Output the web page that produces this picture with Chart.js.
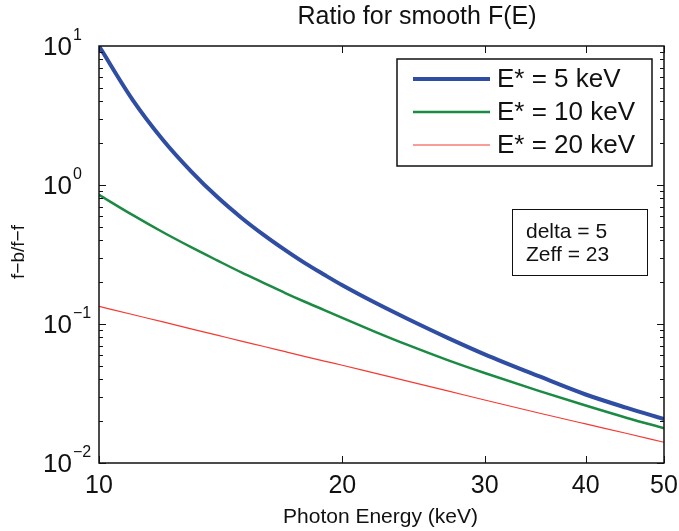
<!DOCTYPE html>
<html>
<head>
<meta charset="utf-8">
<script src="https://cdn.jsdelivr.net/npm/chart.js@4"></script>
<style>
  html, body { margin: 0; padding: 0; background: #fff; }
  canvas { display: block; }
</style>
</head>
<body>
<canvas id="chart" width="679" height="531"></canvas>
<script>
// data
const energies = [10, 11, 12, 13, 14, 15, 16, 17, 18, 19, 20, 22, 24, 27, 30, 35, 40, 45, 50];
const ratio5keV = [10, 4.12, 2.11, 1.255, 0.822, 0.582, 0.436, 0.340, 0.273, 0.226, 0.190, 0.1415, 0.110, 0.0795, 0.0605, 0.0421, 0.0311, 0.0249, 0.0207];
const ratio10keV = [0.85, 0.609, 0.457, 0.357, 0.287, 0.235, 0.197, 0.167, 0.144, 0.126, 0.1105, 0.0875, 0.0713, 0.055, 0.0444, 0.033, 0.0259, 0.0211, 0.0178];
const ratio20keV = [0.134, 0.117, 0.1035, 0.0923, 0.0831, 0.0753, 0.0689, 0.0632, 0.0583, 0.0541, 0.0505, 0.0441, 0.039, 0.033, 0.0284, 0.0229, 0.0191, 0.0163, 0.0141];

const seriesLabels = ['E* = 5 keV', 'E* = 10 keV', 'E* = 20 keV'];
const xTicks = [10, 20, 30, 40, 50];
const yTicks = [0.01, 0.1, 1, 10];
const yTickExps = ['\u22122', '\u22121', '0', '1'];
const noteLines = ['delta = 5', 'Zeff = 23'];

const FONT = '"Liberation Sans", Arial, Helvetica, sans-serif';

const toPoints = (ys) => energies.map((x, i) => ({ x, y: ys[i] }));

// frame, inward ticks, labels, legend and note box (matlab look)
const matlabAxes = {
    id: 'matlabAxes',
    afterDraw(chart) {
        const { ctx, chartArea: a, scales } = chart;
        const xs = scales.x, ys = scales.y;
        ctx.save();
        ctx.strokeStyle = '#111';
        ctx.lineWidth = 1.5;
        ctx.strokeRect(a.left, a.top, a.right - a.left, a.bottom - a.top);

        // y ticks, major + minor on both sides
        ctx.lineWidth = 1;
        ctx.beginPath();
        for (let d = -2; d < 1; d++) {
            for (let m = 1; m <= 9; m++) {
                const py = Math.round(ys.getPixelForValue(m * Math.pow(10, d))) + 0.5;
                const len = m === 1 ? 7 : 4;
                ctx.moveTo(a.left, py); ctx.lineTo(a.left + len, py);
                ctx.moveTo(a.right, py); ctx.lineTo(a.right - len, py);
            }
        }
        xTicks.forEach(v => {
            const px = Math.round(xs.getPixelForValue(v)) + 0.5;
            ctx.moveTo(px, a.bottom); ctx.lineTo(px, a.bottom - 7);
            ctx.moveTo(px, a.top); ctx.lineTo(px, a.top + 7);
        });
        ctx.stroke();

        // tick labels
        ctx.fillStyle = '#111';
        ctx.textBaseline = 'middle';
        ctx.textAlign = 'center';
        ctx.font = `25px ${FONT}`;
        xTicks.forEach(v => ctx.fillText(String(v), xs.getPixelForValue(v), a.bottom + 23));

        ctx.textAlign = 'left';
        yTicks.forEach((v, i) => {
            const py = ys.getPixelForValue(v);
            ctx.font = `26px ${FONT}`;
            ctx.fillText('10', 43, py + 2);
            ctx.font = `16px ${FONT}`;
            ctx.fillText(yTickExps[i], 73, py - 10);
        });

        // axis titles
        ctx.textAlign = 'center';
        ctx.font = `21px ${FONT}`;
        ctx.fillText('Photon Energy (keV)', (a.left + a.right) / 2 - 1, 517);
        ctx.save();
        ctx.translate(19, 252);
        ctx.rotate(-Math.PI / 2);
        ctx.font = `19px ${FONT}`;
        ctx.fillText('f\u2212b/f\u2212f', 0, 0);
        ctx.restore();

        // title
        ctx.font = `25px ${FONT}`;
        ctx.fillText('Ratio for smooth F(E)', 417, 17);

        // legend box
        ctx.fillStyle = '#fff';
        ctx.fillRect(397, 59, 255, 107);
        ctx.lineWidth = 1.5;
        ctx.strokeStyle = '#111';
        ctx.strokeRect(397, 59, 255, 107);
        ctx.font = `26px ${FONT}`;
        ctx.textAlign = 'left';
        chart.data.datasets.forEach((ds, i) => {
            const cy = 79 + i * 33;
            ctx.strokeStyle = ds.borderColor;
            ctx.lineWidth = ds.borderWidth;
            ctx.beginPath();
            ctx.moveTo(413, cy); ctx.lineTo(490, cy);
            ctx.stroke();
            ctx.fillStyle = '#111';
            ctx.fillText(ds.label, 497, cy + 1);
        });

        // note box
        ctx.lineWidth = 1;
        ctx.strokeStyle = '#111';
        ctx.strokeRect(512.5, 209.5, 135, 66);
        ctx.font = `21px ${FONT}`;
        noteLines.forEach((t, i) => ctx.fillText(t, 526, 232 + i * 23));
        ctx.restore();
    }
};

new Chart(document.getElementById('chart'), {
    type: 'line',
    data: {
        datasets: [
            { label: seriesLabels[0], data: toPoints(ratio5keV), borderColor: '#2f4ea3', borderWidth: 4 },
            { label: seriesLabels[1], data: toPoints(ratio10keV), borderColor: '#1b8a43', borderWidth: 2.5 },
            { label: seriesLabels[2], data: toPoints(ratio20keV), borderColor: '#f53a32', borderWidth: 1.2 }
        ]
    },
    options: {
        responsive: false,
        animation: false,
        layout: { padding: { left: 99, right: 15, top: 46, bottom: 68 } },
        elements: { point: { radius: 0 }, line: { cubicInterpolationMode: 'monotone' } },
        plugins: { legend: { display: false }, tooltip: { enabled: false }, title: { display: false } },
        scales: {
            x: { type: 'logarithmic', min: 10, max: 50, display: false },
            y: { type: 'logarithmic', min: 0.01, max: 10, display: false }
        }
    },
    plugins: [matlabAxes]
});
</script>
</body>
</html>
